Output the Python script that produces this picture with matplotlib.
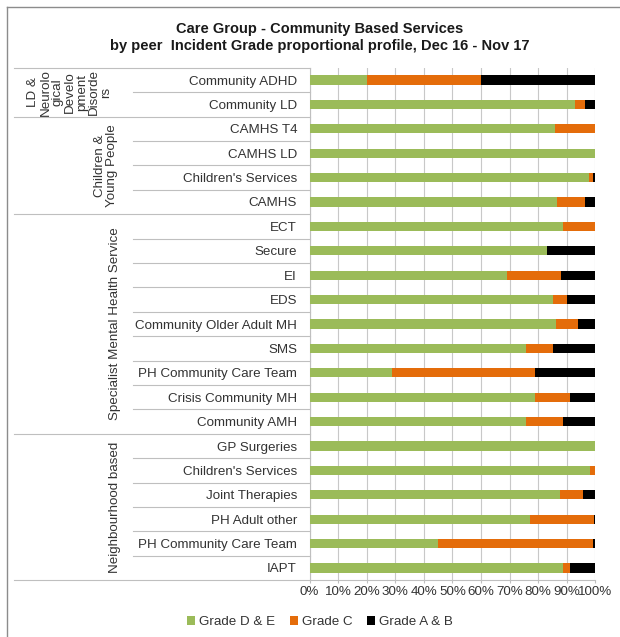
import matplotlib
matplotlib.use("Agg")
import matplotlib.pyplot as plt
from matplotlib.patches import Patch
from matplotlib.lines import Line2D
import numpy as np

plt.rcParams['font.family'] = ['Liberation Sans', 'DejaVu Sans']

# categories, top to bottom
services = ["Community ADHD", "Community LD",
            "CAMHS T4", "CAMHS LD", "Children's Services", "CAMHS",
            "ECT", "Secure", "EI", "EDS", "Community Older Adult MH", "SMS",
            "PH Community Care Team", "Crisis Community MH", "Community AMH",
            "GP Surgeries", "Children's Services", "Joint Therapies",
            "PH Adult other", "PH Community Care Team", "IAPT"]
groups = ["LD &\nNeurolo\ngical\nDevelo\npment\nDisorde\nrs",
          "Children &\nYoung People",
          "Specialist Mental Health Service",
          "Neighbourhood based"]
group_sizes = [2, 4, 9, 6]

# percentages
grade_de = [20.0, 92.9, 85.8, 100.0, 97.9, 86.6,
            88.8, 83.2, 69.1, 85.1, 86.1, 75.7, 28.9, 79.0, 75.6,
            100.0, 98.2, 87.5, 77.1, 44.9, 88.7]
grade_c = [40.0, 3.6, 14.2, 0.0, 1.4, 9.9,
           11.2, 0.0, 19.0, 4.9, 7.9, 9.6, 50.1, 12.2, 13.2,
           0.0, 1.8, 8.3, 22.4, 54.4, 2.5]
grade_ab = [40.0, 3.5, 0.0, 0.0, 0.7, 3.5,
            0.0, 16.8, 11.9, 10.0, 6.0, 14.7, 21.0, 8.8, 11.2,
            0.0, 0.0, 4.2, 0.5, 0.7, 8.8]

series = [("Grade D & E", grade_de, "#9BBB59"),
          ("Grade C", grade_c, "#E46C0A"),
          ("Grade A & B", grade_ab, "#000000")]

FS = 9.6
TXT = "#333333"
W, H = 620, 637
fig = plt.figure(figsize=(W / 100, H / 100), dpi=100)

# plot area in pixels
x0, x1 = 309.5, 595.3
y0, y1 = 67.8, 580.2
ax = fig.add_axes([x0 / W, 1 - y1 / H, (x1 - x0) / W, (y1 - y0) / H])

y = np.arange(len(services))
left = np.zeros(len(services))
for name, vals, col in series:
    ax.barh(y, vals, left=left, height=0.37, color=col, label=name, zorder=3)
    left += np.array(vals)

ax.set_xlim(0, 100)
ax.set_ylim(len(services) - 0.5, -0.5)
ax.set_xticks(np.arange(0, 101, 10))
ax.set_xticklabels([f"{v}%" for v in range(0, 101, 10)], fontsize=FS, color=TXT)
ax.set_yticks(y)
ax.set_yticklabels(services, fontsize=FS, color=TXT)
ax.tick_params(axis='y', length=0, pad=9)
ax.tick_params(axis='x', length=2.5, width=0.8, color="#BFBFBF", pad=2)
ax.grid(axis='x', color="#C8C8C8", linewidth=0.8, zorder=0)
for s in ['top', 'right']:
    ax.spines[s].set_visible(False)
for s in ['left', 'bottom']:
    ax.spines[s].set_color("#BFBFBF")
    ax.spines[s].set_linewidth(0.8)

# multi-level category axis
aw = x1 - x0
xin = (133 - x0) / aw
xout = (14 - x0) / aw
tr = ax.get_yaxis_transform()
line_kw = dict(color="#BFBFBF", linewidth=0.8, transform=tr, clip_on=False)
bounds = np.concatenate([[0], np.cumsum(group_sizes)])
for i in range(len(services) + 1):
    yy = i - 0.5
    xs = xout if i in bounds else xin
    ax.plot([xs, 0], [yy, yy], **line_kw)

group_x = [70, 106, 115, 115]
group_ls = [1.02, 0.92, 1.0, 1.0]
for g, gx, ls, a, b in zip(groups, group_x, group_ls, bounds[:-1], bounds[1:]):
    ax.text((gx - x0) / aw, (a + b - 1) / 2, g, rotation=90, transform=tr,
            ha='center', va='center', fontsize=FS, color=TXT,
            multialignment='center', linespacing=ls)

# title
fig.text(0.515, 1 - 37.5 / H,
         "Care Group - Community Based Services\nby peer  Incident Grade proportional profile, Dec 16 - Nov 17",
         ha='center', va='center', fontsize=10.5, fontweight='bold', color="#1a1a1a",
         linespacing=1.3)

# legend
handles = [Patch(facecolor=c, edgecolor='none', label=n) for n, _, c in series]
fig.legend(handles=handles, loc='center', bbox_to_anchor=(320 / W, 1 - 622 / H),
           ncol=3, frameon=False, fontsize=FS, handlelength=0.6, handleheight=0.6,
           handletextpad=0.3, columnspacing=1.1, labelcolor=TXT)

# chart frame (cropped on the right and bottom)
fig.add_artist(Line2D([7 / W, 7 / W], [0, 1 - 7 / H], color="#8C8C8C", linewidth=1))
fig.add_artist(Line2D([7 / W, 1], [1 - 7 / H, 1 - 7 / H], color="#8C8C8C", linewidth=1))

fig.savefig("out.png", dpi=100)
